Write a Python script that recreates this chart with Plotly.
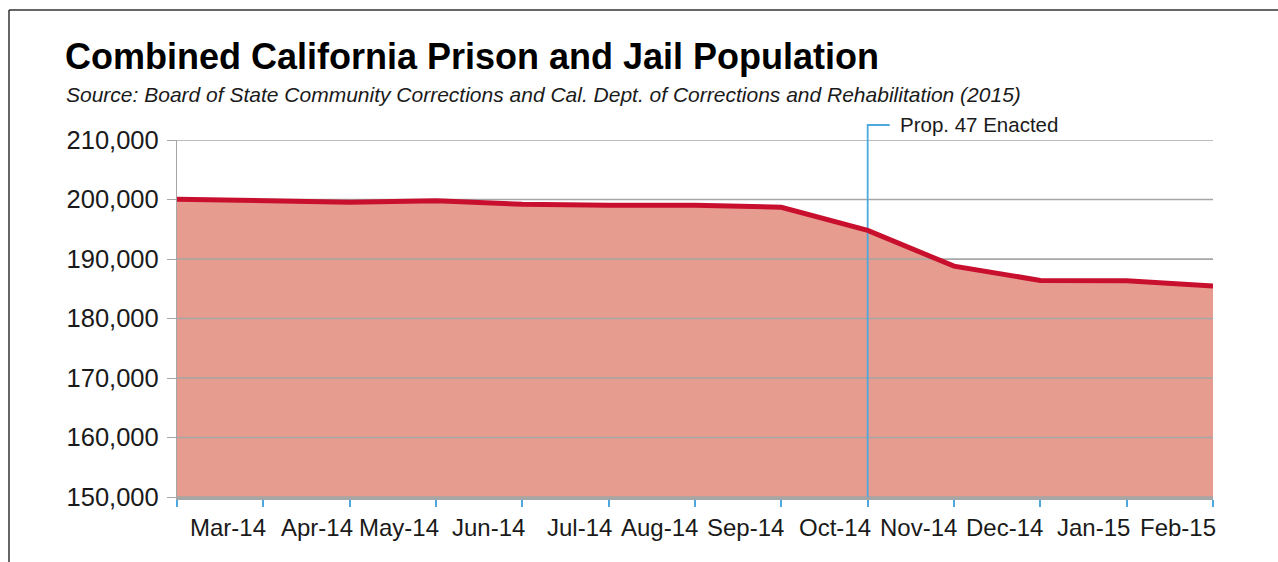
import plotly.graph_objects as go

# ---- data ----
months = ["Feb-14", "Mar-14", "Apr-14", "May-14", "Jun-14", "Jul-14", "Aug-14",
          "Sep-14", "Oct-14", "Nov-14", "Dec-14", "Jan-15", "Feb-15"]
population = [200050, 199700, 199550, 199780, 199200, 199050, 199050,
              198700, 194800, 188800, 186400, 186350, 185450]
tick_labels = months[1:]          # labels drawn right-aligned at each tick
y_ticks = [150000, 160000, 170000, 180000, 190000, 200000, 210000]
event_month = "Oct-14"
event_label = "Prop. 47 Enacted"
title = "Combined California Prison and Jail Population"
subtitle = ("Source: Board of State Community Corrections and Cal. Dept. of "
            "Corrections and Rehabilitation (2015)")

# ---- layout geometry (pixels) ----
W, H = 1278, 562
L, R, T, B = 177, 1213, 140, 497
PW, PH = R - L, B - T


def px(x):
    return (x - L) / PW


def py(y):
    return (B - y) / PH


LINE_RED = "#C8102E"
FILL = "#E69D8F"
GRID = "#A6A6A6"
BLUE = "#4EA8DE"
TXT = "#1a1a1a"
FONT = "Liberation Sans, Arial, sans-serif"

fig = go.Figure()

# filled area (no line)
fig.add_trace(go.Scatter(x=months, y=population, mode="lines", fill="tozeroy",
                         fillcolor=FILL, line=dict(width=0, color=FILL),
                         hoverinfo="skip", showlegend=False))

# gridlines over fill
gx, gy = [], []
for v in y_ticks:
    gx += [months[0], months[-1], None]
    gy += [v, v, None]
fig.add_trace(go.Scatter(x=gx, y=gy, mode="lines",
                         line=dict(color=GRID, width=1.3),
                         hoverinfo="skip", showlegend=False))

# event vertical line (inside plot)
fig.add_trace(go.Scatter(x=[event_month, event_month], y=[y_ticks[0], y_ticks[-1]],
                         mode="lines", line=dict(color=BLUE, width=1.8),
                         hoverinfo="skip", showlegend=False))

# main red line
fig.add_trace(go.Scatter(x=months, y=population, mode="lines",
                         line=dict(color=LINE_RED, width=5),
                         showlegend=False))

ei = months.index(event_month)
shapes = [
    # event bracket above plot
    dict(type="path", xref="x", yref="paper",
         path=f"M {ei},1 L {ei},{py(125)} L {ei + (890 - 868) / (PW / 12)},{py(125)}",
         line=dict(color=BLUE, width=1.8)),
    # outer frame (left and top)
    dict(type="line", xref="paper", yref="paper", x0=px(9), x1=px(9),
         y0=py(570), y1=py(10), line=dict(color="#333333", width=1.5)),
    dict(type="line", xref="paper", yref="paper", x0=px(9), x1=px(1290),
         y0=py(10), y1=py(10), line=dict(color="#333333", width=1.5)),
]

annotations = [
    dict(text=f"<b>{title}</b>", xref="paper", yref="paper", x=px(63), y=py(57),
         xanchor="left", yanchor="middle", showarrow=False,
         font=dict(family=FONT, size=36, color="#000000")),
    dict(text=f"<i>{subtitle}</i>", xref="paper", yref="paper", x=px(64), y=py(94),
         xanchor="left", yanchor="middle", showarrow=False,
         font=dict(family=FONT, size=21, color=TXT)),
    dict(text=event_label, xref="x", yref="paper", x=ei, xshift=(898 - 868),
         y=py(125), xanchor="left", yanchor="middle", showarrow=False,
         font=dict(family=FONT, size=20.5, color=TXT)),
]
for i, lab in enumerate(tick_labels, start=1):
    annotations.append(dict(text=lab, xref="x", yref="paper", x=i, xshift=5,
                            y=py(527), xanchor="right", yanchor="middle",
                            showarrow=False,
                            font=dict(family=FONT, size=24, color=TXT)))

fig.update_layout(
    width=W, height=H,
    margin=dict(l=L, r=W - R, t=T, b=H - B, pad=0),
    paper_bgcolor="white", plot_bgcolor="white",
    showlegend=False,
    shapes=shapes, annotations=annotations,
    xaxis=dict(type="category", range=[0, len(months) - 1],
               showgrid=False, zeroline=False, showticklabels=False,
               showline=True, linecolor="#A6A6A6", linewidth=2.5,
               ticks="outside", ticklen=7, tickwidth=2, tickcolor=BLUE,
               layer="above traces"),
    yaxis=dict(range=[y_ticks[0], y_ticks[-1]], tickvals=y_ticks,
               tickformat=",", showgrid=True, gridcolor=GRID, gridwidth=1.3,
               zeroline=False, showline=True, linecolor="#A6A6A6", linewidth=1.3,
               ticks="outside", ticklen=9, tickwidth=1.3, tickcolor=GRID,
               ticklabelstandoff=3,
               tickfont=dict(family=FONT, size=25.5, color=TXT)),
)

fig.write_html("out.html",
               config={"displayModeBar": False},
               post_script="document.body.style.margin='0';"
                           "document.body.style.overflow='hidden';")
